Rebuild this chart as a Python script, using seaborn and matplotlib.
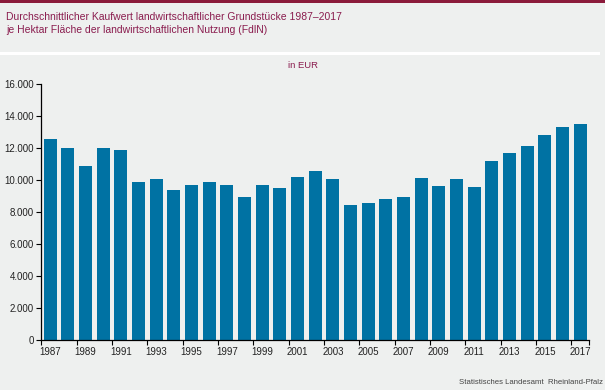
import numpy as np
import pandas as pd
import seaborn as sns
import matplotlib

matplotlib.use("Agg")
import matplotlib.pyplot as plt
from matplotlib.ticker import FuncFormatter, FixedLocator

# colours
_SURFACE = "#eef0ef"
_BAR = "#0072a3"
_TITLE = "#8a1c4e"
_BORDER = "#8b1b3b"
_INK = "#222222"

years = list(range(1987, 2018))
values = [
    12550, 12000, 10870, 12000, 11870, 9870, 10060, 9380, 9690, 9870,
    9690, 8940, 9690, 9500, 10190, 10560, 10060, 8440, 8560, 8810,
    8940, 10130, 9630, 10060, 9560, 11190, 11690, 12130, 12810, 13310,
    13500,
]
y_ticks = [0, 2000, 4000, 6000, 8000, 10000, 12000, 14000, 16000]

df = pd.DataFrame({"year": [str(y) for y in years], "value": values})

sns.set_theme(style="white")
plt.rcParams["font.family"] = ["Liberation Sans", "DejaVu Sans"]

fig = plt.figure(figsize=(6.05, 3.9), dpi=100)
fig.set_facecolor(_SURFACE)
ax = fig.add_axes([41.3 / 605, 1 - 340 / 390, (589 - 41.3) / 605, (340 - 84.3) / 390])
ax.set_facecolor(_SURFACE)

sns.barplot(data=df, x="year", y="value", color=_BAR, saturation=1, width=0.73,
            linewidth=0, edgecolor="none", ax=ax)

ax.set_xlim(-0.5, len(years) - 0.5)
ax.set_ylim(0, 16000)
ax.set_yticks(y_ticks)
ax.yaxis.set_major_formatter(FuncFormatter(lambda v, _: f"{int(v):,}".replace(",", ".")))

# labels on odd years, tick marks between every second category
label_pos = [i for i, y in enumerate(years) if y % 2 == 1]
ax.xaxis.set_major_locator(FixedLocator(label_pos))
ax.set_xticklabels([str(years[i]) for i in label_pos])
ax.xaxis.set_minor_locator(FixedLocator([i - 0.5 for i in range(0, len(years), 2)] + [len(years) - 0.5]))
ax.tick_params(axis="x", which="major", length=0, pad=5, labelsize=7, labelcolor=_INK)
ax.tick_params(axis="x", which="minor", length=3.5, width=0.8, color="black", direction="out", bottom=True)
ax.tick_params(axis="y", which="major", length=3.5, width=0.8, color="black", direction="out", left=True,
               labelsize=7, labelcolor=_INK, pad=2)

for side in ("top", "right"):
    ax.spines[side].set_visible(False)
for side in ("left", "bottom"):
    ax.spines[side].set_color("black")
    ax.spines[side].set_linewidth(0.9)
ax.set_xlabel("")
ax.set_ylabel("")
ax.grid(False)

# chrome: top border, title, white separator, unit, source
fig.add_artist(plt.Rectangle((0, 1 - 3 / 390), 1, 3 / 390, transform=fig.transFigure, color=_BORDER, lw=0))
fig.add_artist(plt.Rectangle((0, 1 - 55 / 390), 600 / 605, 3 / 390, transform=fig.transFigure, color="white", lw=0))
fig.text(6 / 605, 1 - 17 / 390, "Durchschnittlicher Kaufwert landwirtschaftlicher Grundstücke 1987–2017",
         color=_TITLE, fontsize=7.5, va="center", ha="left")
fig.text(6 / 605, 1 - 30 / 390, "je Hektar Fläche der landwirtschaftlichen Nutzung (FdlN)",
         color=_TITLE, fontsize=7.5, va="center", ha="left")
fig.text(0.5, 1 - 66 / 390, "in EUR", color=_TITLE, fontsize=6.8, ha="center", va="center")
fig.text(603 / 605, 1 - 382.5 / 390, "Statistisches Landesamt  Rheinland-Pfalz", color="#444444",
         fontsize=5.6, ha="right", va="center")

fig.savefig("out.png", dpi=100, facecolor=fig.get_facecolor())
plt.close(fig)
